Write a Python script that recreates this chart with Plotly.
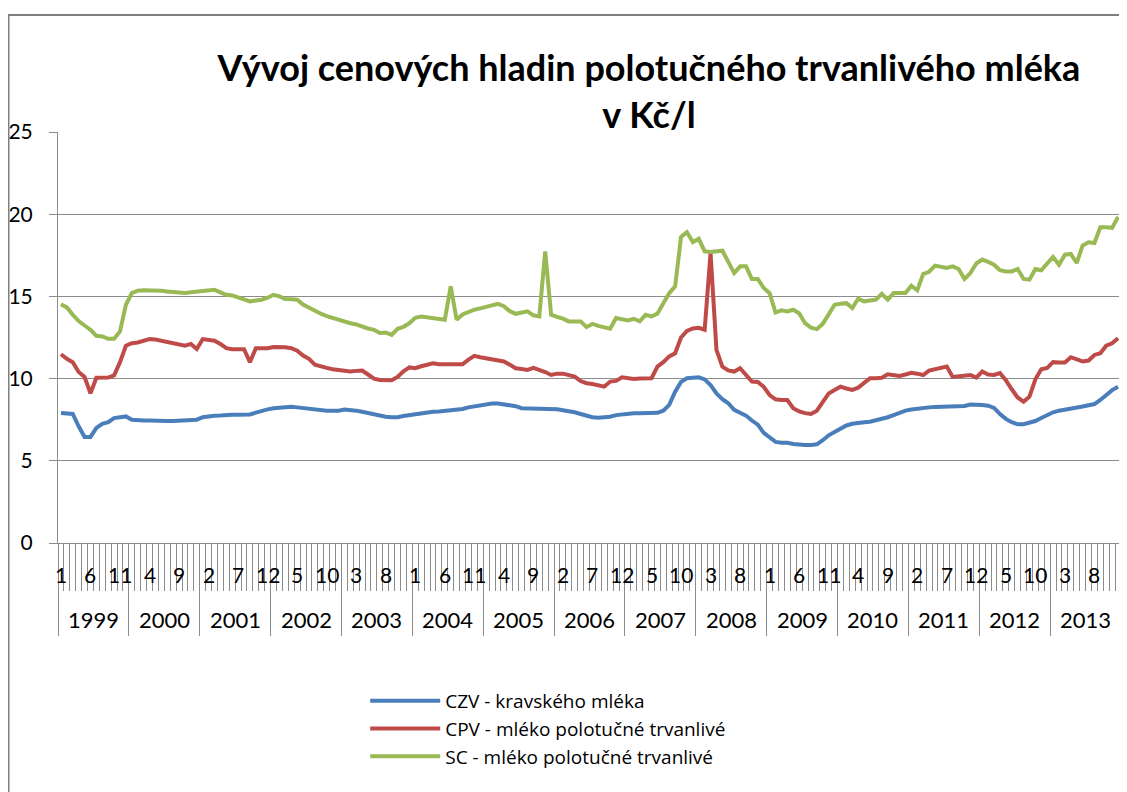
import plotly.graph_objects as go

# ---- categories: monthly, 1999-01 .. 2013-12 ----
years = list(range(1999, 2014))
months = list(range(1, 13))
categories = [(y, m) for y in years for m in months]

# ---- series values (Kč/l) ----
czv = [7.9, 7.85, 7.85, 7.1, 6.45, 6.45, 7.0, 7.25, 7.35, 7.6, 7.65, 7.7,
       7.5, 7.45, 7.45, 7.45, 7.42, 7.42, 7.42, 7.42, 7.45, 7.48, 7.48, 7.5,
       7.65, 7.72, 7.74, 7.75, 7.8, 7.8, 7.8, 7.8, 7.82, 7.93, 8.05, 8.13,
       8.2, 8.22, 8.28, 8.28, 8.25, 8.2, 8.15, 8.1, 8.07, 8.05, 8.05, 8.05,
       8.12, 8.1, 8.05, 7.98, 7.9, 7.8, 7.72, 7.68, 7.65, 7.65, 7.72, 7.78,
       7.85, 7.9, 7.95, 7.98, 8.0, 8.03, 8.05, 8.08, 8.15, 8.25, 8.32, 8.35,
       8.4, 8.48, 8.48, 8.43, 8.38, 8.32, 8.2, 8.19, 8.19, 8.19, 8.19, 8.17,
       8.14, 8.08, 8.03, 7.95, 7.85, 7.75, 7.65, 7.62, 7.62, 7.68, 7.78, 7.82,
       7.88, 7.89, 7.89, 7.89, 7.89, 7.92, 8.05, 8.4, 9.2, 9.8, 10.02, 10.05,
       10.08, 9.95, 9.6, 9.1, 8.75, 8.5, 8.1, 7.92, 7.75, 7.45, 7.2, 6.7,
       6.4, 6.15, 6.1, 6.1, 6.02, 5.97, 5.96, 5.96, 6.0, 6.25, 6.55, 6.75,
       6.98, 7.15, 7.25, 7.32, 7.35, 7.38, 7.45, 7.52, 7.65, 7.78, 7.92, 8.05,
       8.12, 8.18, 8.22, 8.25, 8.28, 8.3, 8.33, 8.33, 8.33, 8.33, 8.42, 8.42,
       8.4, 8.35, 8.22, 7.85, 7.55, 7.35, 7.22, 7.22, 7.3, 7.42, 7.6, 7.8,
       7.95, 8.05, 8.1, 8.15, 8.22, 8.3, 8.38, 8.45, 8.7, 9.0, 9.3, 9.5]

cpv = [11.48, 11.2, 11.0, 10.4, 10.1, 9.1, 10.05, 10.06, 10.06, 10.2, 11.0, 12.0,
       12.15, 12.2, 12.3, 12.4, 12.38, 12.3, 12.26, 12.15, 12.1, 12.0, 12.11, 11.8,
       12.4, 12.33, 12.3, 12.11, 11.85, 11.79, 11.79, 11.79, 11.0, 11.85, 11.85, 11.85,
       11.92, 11.92, 11.91, 11.85, 11.7, 11.4, 11.2, 10.85, 10.78, 10.65, 10.57, 10.53,
       10.45, 10.43, 10.47, 10.49, 10.25, 10.0, 9.92, 9.88, 9.9, 10.1, 10.45, 10.68,
       10.63, 10.75, 10.85, 10.93, 10.87, 10.87, 10.87, 10.87, 10.87, 11.15, 11.38, 11.3,
       11.24, 11.15, 11.08, 11.04, 10.85, 10.63, 10.58, 10.53, 10.65, 10.55, 10.4, 10.22,
       10.3, 10.3, 10.22, 10.12, 9.85, 9.72, 9.67, 9.6, 9.51, 9.82, 9.86, 10.08,
       10.0, 9.98, 10.0, 10.02, 10.02, 10.73, 11.0, 11.35, 11.54, 12.5, 12.9, 13.05,
       13.09, 12.97, 17.64, 11.75, 10.73, 10.5, 10.43, 10.63, 10.2, 9.82, 9.8, 9.5,
       9.0, 8.74, 8.7, 8.7, 8.2, 8.0, 7.9, 7.85, 8.05, 8.6, 9.1, 9.3,
       9.51, 9.4, 9.31, 9.45, 9.75, 10.02, 10.02, 10.05, 10.26, 10.2, 10.16, 10.25,
       10.35, 10.3, 10.22, 10.49, 10.58, 10.63, 10.73, 10.1, 10.15, 10.2, 10.22, 10.06,
       10.43, 10.25, 10.22, 10.33, 9.9, 9.35, 8.85, 8.6, 8.9, 9.96, 10.57, 10.65,
       11.0, 10.98, 10.98, 11.3, 11.15, 11.04, 11.1, 11.44, 11.54, 12.0, 12.15, 12.46]

sc = [14.53, 14.33, 13.88, 13.5, 13.23, 12.97, 12.6, 12.56, 12.42, 12.42, 12.87, 14.49,
      15.2, 15.35, 15.37, 15.37, 15.37, 15.35, 15.3, 15.25, 15.24, 15.2, 15.25, 15.3,
      15.35, 15.37, 15.4, 15.25, 15.1, 15.06, 14.94, 14.8, 14.7, 14.75, 14.8, 14.92,
      15.1, 15.0, 14.84, 14.82, 14.8, 14.5, 14.3, 14.12, 13.95, 13.8, 13.68, 13.58,
      13.5, 13.37, 13.3, 13.15, 13.05, 12.97, 12.77, 12.8, 12.66, 13.03, 13.15, 13.37,
      13.7, 13.78, 13.72, 13.68, 13.62, 13.58, 15.61, 13.58, 13.9, 14.05, 14.19, 14.27,
      14.35, 14.45, 14.55, 14.4, 14.1, 13.94, 14.0, 14.09, 13.85, 13.78, 17.74, 13.88,
      13.75, 13.65, 13.48, 13.48, 13.48, 13.13, 13.33, 13.21, 13.1, 13.03, 13.68, 13.6,
      13.54, 13.64, 13.48, 13.88, 13.78, 13.95, 14.6, 15.2, 15.61, 18.62, 18.9, 18.31,
      18.5, 17.74, 17.7, 17.74, 17.78, 17.1, 16.42, 16.83, 16.83, 16.06, 16.06, 15.51,
      15.2, 14.02, 14.15, 14.09, 14.19, 13.98, 13.37, 13.1, 13.01, 13.33, 13.9, 14.49,
      14.55, 14.59, 14.29, 14.86, 14.7, 14.75, 14.8, 15.16, 14.8, 15.2, 15.2, 15.2,
      15.65, 15.37, 16.36, 16.5, 16.87, 16.8, 16.73, 16.83, 16.67, 16.06, 16.42, 17.0,
      17.24, 17.1, 16.93, 16.6, 16.52, 16.52, 16.67, 16.06, 16.02, 16.67, 16.59, 17.0,
      17.4, 16.93, 17.54, 17.58, 17.03, 18.09, 18.29, 18.25, 19.2, 19.2, 19.17, 19.84]

series_names = ["CZV - kravského mléka",
                "CPV - mléko polotučné trvanlivé",
                "SC - mléko polotučné trvanlivé"]
series_colors = ["#4A7EBB", "#BE4B48", "#98B954"]

title_text = "Vývoj cenových hladin polotučného trvanlivého mléka<br>v Kč/l"
month_label_step = 5

FONT = "Lato"
GRID = "#8C8C8C"

# figure geometry (page has an 8px body margin, compensated here)
L, T, PW, PH = 50, 124, 1063, 411
W, H = 1127, 792

idx = list(range(len(categories)))
hover = [f"{m}/{y}" for (y, m) in categories]

fig = go.Figure()
for name, vals, col in zip(series_names, [czv, cpv, sc], series_colors):
    fig.add_trace(go.Scatter(x=idx, y=vals, mode="lines", name=name,
                             line=dict(color=col, width=4),
                             text=hover, hovertemplate="%{text}: %{y}<extra></extra>"))

n = len(categories)
year_bounds = [i - 0.5 for i in range(0, n + 1, 12)]
month_bounds = [i - 0.5 for i in range(0, n + 1)]

annotations = []
for i in range(0, n, month_label_step):
    annotations.append(dict(x=i, y=-0.076, xref="x", yref="paper",
                            text=str(categories[i][1]), showarrow=False,
                            xanchor="center", yanchor="middle",
                            font=dict(family=FONT, size=21, color="#000")))
for k, y in enumerate(years):
    annotations.append(dict(x=k * 12 + 5.5, y=-0.187, xref="x", yref="paper",
                            text=str(y), showarrow=False,
                            xanchor="center", yanchor="middle",
                            font=dict(family=FONT, size=22, color="#000")))

fig.update_layout(
    width=W, height=H,
    margin=dict(l=L, r=W - L - PW, t=T, b=H - T - PH),
    paper_bgcolor="white", plot_bgcolor="white",
    title=dict(text=title_text, x=641 / W, xanchor="center",
               y=1 - 73 / H, yanchor="top",
               font=dict(family=FONT, size=36, color="#000", weight="bold")),
    xaxis=dict(range=[-0.5, n - 0.5], showgrid=False, zeroline=False,
               automargin=False,
               showline=True, linecolor=GRID, linewidth=1,
               tickmode="array", tickvals=year_bounds, showticklabels=False,
               ticks="outside", ticklen=92, tickcolor=GRID, tickwidth=1,
               minor=dict(tickmode="array", tickvals=month_bounds, ticks="outside",
                          ticklen=47, tickcolor=GRID, tickwidth=1)),
    yaxis=dict(range=[0, 25], dtick=5, tick0=0, showgrid=True, gridcolor=GRID,
               automargin=False,
               gridwidth=1, zeroline=False, showline=True, linecolor=GRID,
               linewidth=1, ticks="outside", ticklen=8, tickcolor=GRID,
               ticklabelstandoff=12,
               tickfont=dict(family=FONT, size=21, color="#000")),
    legend=dict(x=0.289, y=-0.338, xanchor="left", yanchor="top",
                font=dict(family="Open Sans", size=19, color="#000"),
                bgcolor="rgba(0,0,0,0)", tracegroupgap=0, itemwidth=70),
    annotations=annotations,
    shapes=[dict(type="rect", xref="paper", yref="paper",
                 x0=(0.5 - L) / PW, x1=(W + 10 - L) / PW,
                 y0=-(H + 10 - T - PH) / PH, y1=(T + PH - 7) / PH,
                 line=dict(color="#7F7F7F", width=2), layer="above")],
)

fig.write_html("out.html")
